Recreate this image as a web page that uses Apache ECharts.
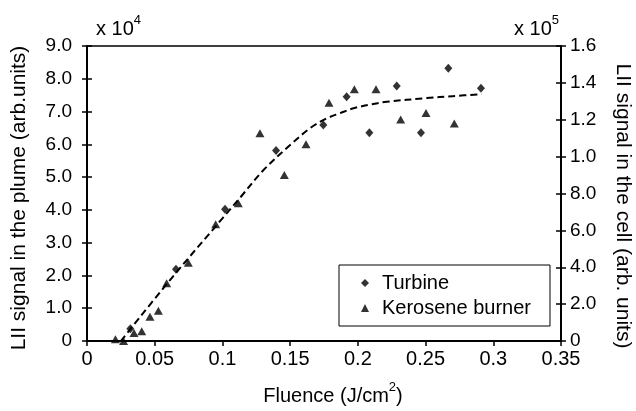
<!DOCTYPE html>
<html>
<head>
<meta charset="utf-8">
<script src="https://cdn.jsdelivr.net/npm/echarts@6/dist/echarts.min.js"></script>
<style>html,body{margin:0;padding:0;background:#fff}#c{width:636px;height:411px}</style>
</head>
<body>
<div id="c"></div>
<script>
// Fluence (J/cm^2) and LII signals
var turbineX = [0.032, 0.0657, 0.1019, 0.1396, 0.1745, 0.1917, 0.2085, 0.2287, 0.2466, 0.2668, 0.2909];
var turbineY = [0.37, 2.19, 4.02, 5.81, 6.59, 7.45, 6.35, 7.78, 6.35, 8.32, 7.71]; // x 10^4, left axis
var keroX = [0.021, 0.027, 0.0347, 0.0404, 0.0465, 0.0527, 0.0588, 0.0748, 0.095, 0.1117, 0.1277, 0.1457, 0.1617, 0.1787, 0.1974, 0.2134, 0.2316, 0.2503, 0.2712];
var keroY = [0.009, 0.0, 0.044, 0.053, 0.132, 0.164, 0.313, 0.425, 0.633, 0.747, 1.127, 0.900, 1.067, 1.292, 1.365, 1.365, 1.202, 1.236, 1.180]; // x 10^5, right axis
var fitX = [0.025, 0.0613, 0.1, 0.113, 0.13, 0.15, 0.165, 0.177, 0.1868, 0.1967, 0.21, 0.2213, 0.2508, 0.27, 0.2914];
var fitY = [0.0, 1.86, 3.74, 4.37, 5.2, 5.98, 6.5, 6.79, 6.95, 7.1, 7.22, 7.3, 7.41, 7.47, 7.53];
var xTicks = [0, 0.05, 0.1, 0.15, 0.2, 0.25, 0.3, 0.35];
var leftTicks = ['0', '1.0', '2.0', '3.0', '4.0', '5.0', '6.0', '7.0', '8.0', '9.0'];
var rightTicks = ['0', '2.0', '4.0', '6.0', '8.0', '1.0', '1.2', '1.4', '1.6'];

function zip(a, b) { return a.map(function (v, i) { return [v, b[i]]; }); }

var FONT = 'Liberation Sans';
var G = { left: 87, right: 75, top: 46, bottom: 70 };
var supRich = {
  a: { fontSize: 20, lineHeight: 30, fontFamily: FONT, fill: '#000' },
  s: { fontSize: 13, lineHeight: 8, verticalAlign: 'top', fontFamily: FONT, fill: '#000' }
};

var chart = echarts.init(document.getElementById('c'), null, { renderer: 'canvas' });
chart.setOption({
  animation: false,
  backgroundColor: '#fff',
  textStyle: { fontFamily: FONT, color: '#000' },
  grid: [
    Object.assign({ show: true, borderColor: '#000', borderWidth: 1.5, backgroundColor: 'transparent' }, G),
    Object.assign({}, G)
  ],
  xAxis: [{
    type: 'value', gridIndex: 0, min: 0, max: 0.35, interval: 0.05,
    axisLine: { show: true, onZero: false, lineStyle: { color: '#000', width: 2 } },
    axisTick: { show: true, inside: false, length: 5, lineStyle: { color: '#000', width: 1.5 } },
    splitLine: { show: false },
    axisLabel: {
      color: '#000', fontSize: 20, fontFamily: FONT, margin: 8,
      formatter: function (v) {
        var i = xTicks.findIndex(function (t) { return Math.abs(t - v) < 1e-6; });
        return i < 0 ? '' : String(xTicks[i]);
      }
    }
  }, {
    type: 'value', gridIndex: 1, min: 0, max: 0.35, show: false
  }],
  yAxis: [{
    type: 'value', gridIndex: 0, position: 'left', min: 0, max: 9, interval: 1,
    axisLine: { show: true, onZero: false, lineStyle: { color: '#000', width: 2 } },
    axisTick: { show: true, inside: false, length: 5, lineStyle: { color: '#000', width: 1.5 } },
    splitLine: { show: false },
    axisLabel: {
      color: '#000', fontSize: 19, fontFamily: FONT, margin: 15,
      formatter: function (v) { return leftTicks[Math.round(v)] || ''; }
    }
  }, {
    type: 'value', gridIndex: 0, position: 'right', min: 0, max: 1.6, interval: 0.2,
    axisLine: { show: true, onZero: false, lineStyle: { color: '#000', width: 2 } },
    axisTick: { show: true, inside: false, length: 5, lineStyle: { color: '#000', width: 1.5 } },
    splitLine: { show: false },
    axisLabel: {
      color: '#000', fontSize: 19, fontFamily: FONT, margin: 9,
      formatter: function (v) { return rightTicks[Math.round(v / 0.2)] || ''; }
    }
  }, {
    type: 'value', gridIndex: 1, position: 'left', min: 0, max: 9, interval: 1,
    axisLine: { show: false }, axisLabel: { show: false }, splitLine: { show: false },
    axisTick: { show: true, inside: true, length: 5, lineStyle: { color: '#000', width: 1.5 } }
  }, {
    type: 'value', gridIndex: 1, position: 'right', min: 0, max: 1.6, interval: 0.2,
    axisLine: { show: false }, axisLabel: { show: false }, splitLine: { show: false },
    axisTick: { show: true, inside: true, length: 5, lineStyle: { color: '#000', width: 1.5 } }
  }],
  legend: {
    orient: 'vertical', left: 339, top: 265,
    data: [{ name: 'Turbine', icon: 'diamond' }, { name: 'Kerosene burner', icon: 'triangle' }],
    backgroundColor: '#fff', borderColor: '#000', borderWidth: 1, borderRadius: 0,
    padding: [8, 19, 8, 22], itemGap: 5, itemWidth: 8, itemHeight: 8,
    textStyle: { fontSize: 20, lineHeight: 20, fontFamily: FONT, color: '#000', padding: [0, 0, 0, 8] }
  },
  series: [{
    name: 'fit', type: 'line', xAxisIndex: 0, yAxisIndex: 0, data: zip(fitX, fitY),
    smooth: 0.35, symbol: 'none', silent: true, z: 1,
    lineStyle: { color: '#000', width: 2, type: [7, 4] }
  }, {
    name: 'Turbine', type: 'scatter', xAxisIndex: 0, yAxisIndex: 0, data: zip(turbineX, turbineY),
    symbol: 'diamond', symbolSize: [8, 9], itemStyle: { color: '#000' }, z: 3
  }, {
    name: 'Kerosene burner', type: 'scatter', xAxisIndex: 0, yAxisIndex: 1, data: zip(keroX, keroY),
    symbol: 'triangle', symbolSize: [9, 8], itemStyle: { color: '#000' }, z: 3
  }],
  graphic: [{
    type: 'text', left: 96, top: 14,
    style: { text: '{a|x 10}{s|4}', fill: '#000', rich: supRich }
  }, {
    type: 'text', right: 77, top: 14,
    style: { text: '{a|x 10}{s|5}', fill: '#000', rich: supRich }
  }, {
    type: 'text', x: 333, y: 396,
    style: { text: '{a|Fluence (J/cm}{s|2}{a|)}', align: 'center', verticalAlign: 'middle', fill: '#000', rich: supRich }
  }, {
    type: 'text', x: 19, y: 198, rotation: Math.PI / 2,
    style: { text: 'LII signal in the plume (arb.units)', align: 'center', verticalAlign: 'middle',
             fontSize: 21, fontFamily: FONT, fill: '#000' }
  }, {
    type: 'text', x: 623, y: 206, rotation: -Math.PI / 2,
    style: { text: 'LII signal in the cell (arb. units)', align: 'center', verticalAlign: 'middle',
             fontSize: 21, fontFamily: FONT, fill: '#000' }
  }]
});
</script>
</body>
</html>
